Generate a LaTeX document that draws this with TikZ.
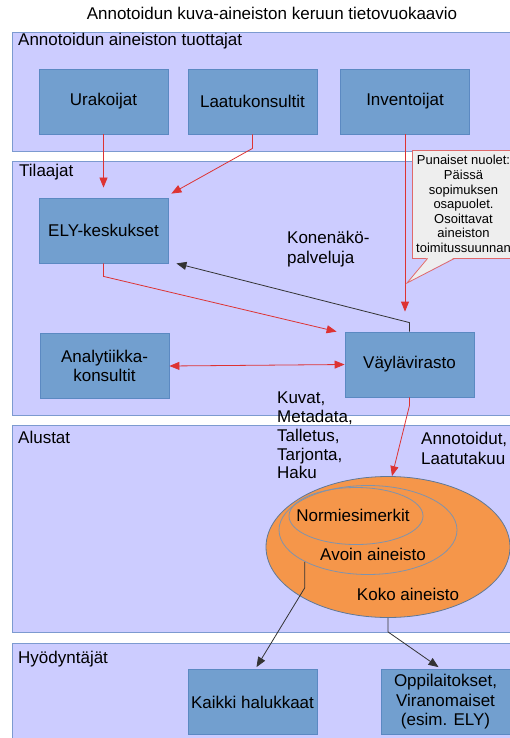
\documentclass[tikz,border=0pt]{standalone}
\usepackage{fontspec}
\setmainfont{Liberation Sans}
\usetikzlibrary{arrows.meta,shapes.geometric,calc}
\definecolor{panelfill}{HTML}{CCCCFF}
\definecolor{panelline}{HTML}{7C9AD0}
\definecolor{boxfill}{HTML}{729FCF}
\definecolor{boxline}{HTML}{5B89C2}
\definecolor{setfill}{HTML}{F5964A}
\definecolor{setline}{HTML}{5F7898}
\definecolor{arrred}{HTML}{DD3333}
\definecolor{arrblack}{HTML}{333333}
\definecolor{notefill}{HTML}{EEEEEE}
\definecolor{noteline}{HTML}{E06A6A}
\begin{document}
\begin{tikzpicture}[x=1pt,y=-1pt,
  font=\fontsize{17}{19.5}\selectfont,
  panel/.style={draw=panelline, fill=panelfill, line width=0.8pt},
  box/.style={draw=boxline, fill=boxfill, line width=0.8pt, align=center,
    minimum width=129pt, minimum height=65pt, inner sep=2pt},
  lbl/.style={align=left, inner sep=0pt},
  setel/.style={ellipse, draw=setline, line width=0.8pt, inner sep=0pt},
  redarr/.style={draw=arrred, line width=0.8pt, -{Triangle[length=10pt,width=8pt]}},
  blkarr/.style={draw=arrblack, line width=0.8pt, -{Triangle[length=10pt,width=8pt]}}]
\useasboundingbox (0,0) rectangle (510,738);
\clip (0,0) rectangle (510,738);
\fill[white] (0,0) rectangle (510,738);
\draw[panel] (12,32) rectangle (520,151);
\draw[panel] (12,161) rectangle (520,415);
\draw[panel] (12,425) rectangle (520,632);
\draw[panel] (12,643) rectangle (520,745);
\node[anchor=base] (title) at (272,20) {Annotoidun kuva-aineiston keruun tietovuokaavio};
\node[anchor=base west, inner sep=0pt] (tuottajat) at (18,46) {Annotoidun aineiston tuottajat};
\node[anchor=base west, inner sep=0pt] (tilaajat) at (19,177) {Tilaajat};
\node[anchor=base west, inner sep=0pt] (alustat) at (18,443) {Alustat};
\node[anchor=base west, inner sep=0pt] (hyodyntajat) at (18,663) {Hyödyntäjät};
\node[box] (urak) at (103.5,101.5) {Urakoijat};
\node[box] (laatu) at (252.5,101.5) {Laatukonsultit};
\node[box] (inv) at (405,101.5) {Inventoijat};
\node[box] (ely) at (103.5,230.5) {ELY-keskukset};
\node[box] (anal) at (104.5,366) {Analytiikka-\\konsultit};
\node[box] (vayla) at (409.5,364.5) {Väylävirasto};
\node[box] (kaikki) at (252.5,702) {Kaikki halukkaat};
\node[box] (oppi) at (445.5,702) {Oppilaitokset,\\Viranomaiset\\(esim. ELY)};
\node[setel, fill=setfill, minimum width=244pt, minimum height=141pt] (koko) at (388,547) {};
\node[setel, draw=setline!80, minimum width=178pt, minimum height=89pt] (avoin) at (368,530) {};
\node[setel, draw=setline!80, minimum width=134pt, minimum height=57pt] (norm) at (356,516) {};
\node (normtxt) at (353,515) {Normiesimerkit};
\node (avointxt) at (373,554) {Avoin aineisto};
\node (kokotxt) at (408,594) {Koko aineisto};
\node[lbl, anchor=north west] (kone) at (287,231) {Konenäkö-\\palveluja};
\node[lbl, anchor=north west, font=\fontsize{17}{18.7}\selectfont] (kuvat) at (277,392) {Kuvat,\\Metadata,\\Talletus,\\Tarjonta,\\Haku};
\node[lbl, anchor=north west] (annot) at (421,432) {Annotoidut,\\Laatutakuu};
\draw[redarr, shorten >=10pt] (urak) -- (ely);
\draw[redarr] (laatu.south) -- ++(0,14) -- ($(ely.north east)+(3,-4)$);
\draw[redarr, shorten >=20pt] (inv.south) -- (inv.south |- vayla.north);
\draw[redarr] (ely.south) -- ++(0,13) -- ($(vayla.north west)+(-8,0)$);
\draw[blkarr] (vayla.north) -- ++(0,-9) -- ($(ely.south east)+(8,0)$);
\draw[redarr, {Triangle[length=10pt,width=8pt]}-{Triangle[length=10pt,width=8pt]}] (anal.east) -- (vayla.west);
\draw[redarr] (vayla.south) -- ++(0,8) -- ($(koko.north)+(4,0)$);
\draw[blkarr] (avoin.south west) -- ++(0,26) -- ($(kaikki.north)+(4,-2)$);
\draw[blkarr] (koko.south) -- ++(0,14) -- ($(oppi.north)+(-7,-2)$);
\node[draw=noteline, fill=notefill, line width=0.8pt, align=center,
  minimum width=103pt, minimum height=108pt, inner sep=1pt,
  font=\fontsize{13}{14.6}\selectfont] (note) at (463.5,204)
  {Punaiset nuolet:\\Päissä\\sopimuksen\\osapuolet.\\Osoittavat\\aineiston\\toimitussuunnan};
\coordinate (tip) at (407,283);
\fill[notefill] ($(note.south west)+(16,-1)$) -- (tip) -- ($(note.south west)+(43,-1)$) -- cycle;
\draw[noteline, line width=0.8pt] ($(note.south west)+(16,0)$) -- (tip) -- ($(note.south west)+(43,0)$);
\end{tikzpicture}
\end{document}
